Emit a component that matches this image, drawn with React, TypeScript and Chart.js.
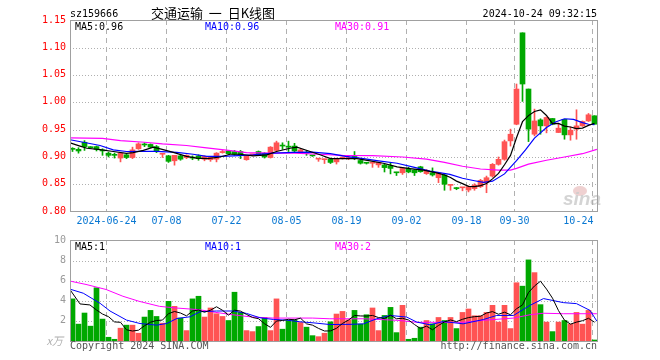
import { useEffect, useRef } from "react";
import { Chart, registerables } from "chart.js";

Chart.register(...registerables);

// ---------------- data ----------------
const dates = [
  "06-14", "06-17", "06-18", "06-19", "06-20", "06-21", "06-24", "06-25", "06-26", "06-27",
  "06-28", "07-01", "07-02", "07-03", "07-04", "07-05", "07-08", "07-09", "07-10", "07-11",
  "07-12", "07-15", "07-16", "07-17", "07-18", "07-19", "07-22", "07-23", "07-24", "07-25",
  "07-26", "07-29", "07-30", "07-31", "08-01", "08-02", "08-05", "08-06", "08-07", "08-08",
  "08-09", "08-12", "08-13", "08-14", "08-15", "08-16", "08-19", "08-20", "08-21", "08-22",
  "08-23", "08-26", "08-27", "08-28", "08-29", "08-30", "09-02", "09-03", "09-04", "09-05",
  "09-06", "09-09", "09-10", "09-11", "09-12", "09-13", "09-18", "09-19", "09-20", "09-23",
  "09-24", "09-25", "09-26", "09-27", "09-30", "10-08", "10-09", "10-10", "10-11", "10-14",
  "10-15", "10-16", "10-17", "10-18", "10-21", "10-22", "10-23", "10-24",
];

const open = [
  0.914, 0.913, 0.926, 0.917, 0.918, 0.912, 0.906, 0.903, 0.897, 0.903,
  0.898, 0.914, 0.922, 0.922, 0.918, 0.904, 0.901, 0.892, 0.901, 0.898,
  0.898, 0.901, 0.895, 0.894, 0.895, 0.907, 0.910, 0.909, 0.909, 0.894,
  0.903, 0.909, 0.906, 0.898, 0.911, 0.920, 0.918, 0.919, 0.908, 0.907,
  0.902, 0.895, 0.894, 0.895, 0.890, 0.897, 0.896, 0.900, 0.8925, 0.888,
  0.8875, 0.8845, 0.8845, 0.883, 0.8705, 0.870, 0.878, 0.875, 0.881, 0.8685,
  0.870, 0.861, 0.866, 0.847, 0.842, 0.8425, 0.8384, 0.841, 0.8445, 0.852,
  0.864, 0.8855, 0.8947, 0.9285, 0.959, 1.1265, 1.0235, 0.9407, 0.967, 0.956,
  0.9695, 0.9438, 0.968, 0.9395, 0.950, 0.956, 0.965, 0.9745,
];
const close = [
  0.913, 0.910, 0.918, 0.916, 0.913, 0.910, 0.902, 0.902, 0.906, 0.898,
  0.912, 0.923, 0.921, 0.917, 0.909, 0.905, 0.891, 0.902, 0.895, 0.902,
  0.897, 0.896, 0.900, 0.899, 0.906, 0.909, 0.905, 0.904, 0.9025, 0.901,
  0.904, 0.903, 0.899, 0.917, 0.925, 0.919, 0.917, 0.910, 0.912, 0.906,
  0.901, 0.896, 0.895, 0.889, 0.896, 0.898, 0.898, 0.896, 0.8875, 0.8875,
  0.888, 0.889, 0.8795, 0.878, 0.870, 0.878, 0.8715, 0.870, 0.872, 0.8735,
  0.866, 0.870, 0.849, 0.848, 0.841, 0.843, 0.8445, 0.8475, 0.856, 0.861,
  0.8855, 0.8947, 0.927, 0.9407, 1.0235, 1.0327, 0.950, 0.965, 0.956, 0.9714,
  0.959, 0.9518, 0.9395, 0.948, 0.956, 0.964, 0.9763, 0.959,
];
const high = [
  0.916, 0.916, 0.929, 0.918, 0.919, 0.914, 0.908, 0.906, 0.906, 0.904,
  0.917, 0.925, 0.925, 0.923, 0.920, 0.905, 0.902, 0.902, 0.903, 0.903,
  0.901, 0.903, 0.901, 0.900, 0.907, 0.911, 0.911, 0.911, 0.911, 0.901,
  0.904, 0.910, 0.907, 0.918, 0.928, 0.925, 0.928, 0.924, 0.913, 0.910,
  0.902, 0.896, 0.895, 0.897, 0.897, 0.899, 0.900, 0.909, 0.894, 0.889,
  0.888, 0.889, 0.886, 0.889, 0.871, 0.880, 0.880, 0.876, 0.882, 0.876,
  0.879, 0.870, 0.867, 0.848, 0.843, 0.843, 0.846, 0.850, 0.858, 0.864,
  0.887, 0.899, 0.930, 0.950, 1.0327, 1.1265, 1.0235, 0.9867, 0.969, 0.9726,
  0.9695, 0.959, 0.968, 0.954, 0.9855, 0.965, 0.9787, 0.9745,
];
const low = [
  0.909, 0.906, 0.911, 0.915, 0.910, 0.902, 0.899, 0.897, 0.890, 0.896,
  0.896, 0.913, 0.918, 0.916, 0.907, 0.898, 0.889, 0.884, 0.893, 0.896,
  0.894, 0.893, 0.892, 0.891, 0.890, 0.906, 0.904, 0.902, 0.896, 0.893,
  0.901, 0.902, 0.897, 0.897, 0.910, 0.913, 0.909, 0.908, 0.906, 0.902,
  0.900, 0.891, 0.887, 0.887, 0.886, 0.895, 0.894, 0.894, 0.886, 0.886,
  0.880, 0.880, 0.8715, 0.868, 0.865, 0.867, 0.870, 0.865, 0.871, 0.867,
  0.864, 0.852, 0.838, 0.838, 0.839, 0.837, 0.835, 0.838, 0.843, 0.8335,
  0.862, 0.884, 0.893, 0.919, 0.958, 1.0008, 0.9272, 0.9376, 0.9407, 0.9432,
  0.958, 0.9438, 0.9315, 0.9297, 0.9315, 0.955, 0.964, 0.959,
];
// volume in 万
const volume = [
  4.17, 1.67, 2.77, 1.47, 5.27, 2.17, 0.37, 0.17, 1.27, 1.57,
  1.57, 0.77, 2.37, 3.03, 2.43, 1.77, 3.93, 3.43, 2.27, 1.03,
  4.17, 4.43, 2.37, 3.27, 2.7, 2.43, 2.03, 4.83, 2.83, 1.03,
  0.93, 1.43, 2.33, 1.03, 4.17, 1.17, 2.03, 2.1, 1.83, 1.37,
  0.53, 0.43, 0.77, 1.9, 2.67, 2.93, 2.1, 3.03, 1.67, 2.6,
  3.27, 1.03, 2.53, 3.33, 0.83, 3.53, 0.17, 0.27, 1.37, 2.03,
  1.7, 2.33, 2.03, 2.33, 1.23, 2.83, 3.17, 2.5, 2.5, 2.83,
  3.53, 1.87, 3.53, 1.23, 5.77, 5.43, 8.03, 6.77, 3.6, 1.87,
  0.93, 1.87, 2.03, 1.67, 2.83, 1.67, 3.03, 0.1,
];

// moving averages: [day index, value]
const ma5Price: [number, number][] = [
  [-0.4, 0.925], [1.25, 0.919], [2.4, 0.915], [4.6, 0.9125], [6.8, 0.909], [9, 0.9056],
  [10.1, 0.907], [11.8, 0.911], [13.5, 0.917], [15.1, 0.9125], [16.8, 0.9075], [19, 0.9],
  [20.7, 0.897], [22.4, 0.896], [24.6, 0.899], [26.25, 0.904], [27.9, 0.904], [30.1, 0.901],
  [32.4, 0.903], [34, 0.909], [36.25, 0.915], [37.4, 0.917], [39.6, 0.909], [41.25, 0.903],
  [43, 0.896], [45.1, 0.896], [47.4, 0.896], [49.6, 0.892], [51.8, 0.8875], [54.1, 0.881],
  [56.25, 0.8775], [58.5, 0.875], [60.7, 0.87], [62, 0.866], [63, 0.8613], [64, 0.8548],
  [65, 0.8502], [66, 0.8451], [67, 0.8448], [68, 0.8464], [69, 0.8504], [70, 0.8589],
  [71, 0.8689], [72, 0.8848], [73, 0.9018], [74, 0.9343], [75, 0.9637], [76, 0.9748],
  [77, 0.9824], [78, 0.9854], [79, 0.975], [80, 0.9603], [81, 0.9606], [82, 0.9555],
  [83, 0.9539], [84, 0.9509], [85, 0.9519], [86, 0.9568], [87, 0.9607],
];
const ma10Price: [number, number][] = [
  [-0.4, 0.9306], [1.8, 0.926], [4.6, 0.92], [6.8, 0.912], [9, 0.909], [11.25, 0.9094],
  [14, 0.9094], [17.4, 0.9075], [20.1, 0.904], [22.4, 0.9], [24.6, 0.9], [26.8, 0.901],
  [30.1, 0.903], [33.5, 0.906], [36.8, 0.9075], [40, 0.908], [43, 0.905], [45.5, 0.9],
  [48.5, 0.896], [51, 0.892], [54.1, 0.8875], [57, 0.88], [59.6, 0.873], [62.9, 0.867],
  [65, 0.86], [67, 0.8555], [68.5, 0.8525], [70, 0.8546], [72, 0.868], [74, 0.8923],
  [75.5, 0.912], [77, 0.9336], [79, 0.953], [80.5, 0.963], [82, 0.969], [83.5, 0.968],
  [85, 0.962], [86, 0.959], [87, 0.9581],
];
const ma30Price: [number, number][] = [
  [-0.4, 0.934], [5, 0.933], [8, 0.929], [12, 0.926], [15, 0.923], [19, 0.92], [22, 0.916],
  [26, 0.911], [29, 0.907], [33, 0.906], [37, 0.906], [41, 0.904], [45, 0.902], [50, 0.9015],
  [55, 0.899], [59, 0.895], [62, 0.889], [65, 0.882], [68, 0.877], [71, 0.875], [73, 0.875],
  [74, 0.878], [76, 0.886], [79, 0.893], [82, 0.899], [85, 0.905], [87.4, 0.913],
];
const ma5Vol: [number, number][] = [
  [-0.4, 5.07], [1.25, 3.67], [2.9, 3.57], [4, 3.07], [5, 2.67], [6, 2.41], [7, 1.89], [8, 1.85],
  [9, 1.11], [10, 0.99], [11, 1.07], [12, 1.51], [13, 1.86], [14, 2.03], [15, 2.07], [16, 2.71],
  [17, 2.92], [18, 2.77], [19, 2.49], [20, 2.97], [21, 3.07], [22, 2.85], [23, 3.05], [24, 3.39],
  [25, 3.04], [26, 2.56], [27, 3.05], [28, 2.96], [29, 2.63], [30, 2.33], [31, 2.21], [32, 1.71],
  [33, 1.35], [34, 1.98], [35, 2.03], [36, 2.15], [37, 2.1], [38, 2.26], [39, 1.7], [40, 1.57],
  [41, 1.25], [42, 0.99], [43, 1.0], [44, 1.26], [45, 1.74], [46, 2.07], [47, 2.53], [48, 2.48],
  [49, 2.47], [50, 2.53], [51, 2.32], [52, 2.22], [53, 2.55], [54, 2.2], [55, 2.25], [56, 2.08],
  [57, 1.63], [58, 1.23], [59, 1.47], [60, 1.11], [61, 1.54], [62, 1.89], [63, 2.08], [64, 1.92],
  [65, 2.15], [66, 2.32], [67, 2.41], [68, 2.45], [69, 2.77], [70, 2.91], [71, 2.65], [72, 2.85],
  [73, 2.6], [74, 3.19], [75, 3.57], [76, 4.8], [77, 5.45], [78, 5.92], [79, 5.14], [80, 4.24],
  [81, 3.01], [82, 2.06], [83, 1.67], [84, 1.87], [85, 2.01], [86, 2.25], [87, 1.86],
];
const ma10Vol: [number, number][] = [
  [-0.4, 5.13], [1.8, 4.73], [4.6, 3.73], [6.25, 2.97], [9, 2.07], [11.25, 1.73], [14, 1.57],
  [15.7, 1.73], [17.4, 2.23], [19.6, 2.4], [21.25, 2.9], [24, 2.97], [26.8, 2.97], [29, 2.73],
  [31.25, 2.3], [33.5, 2.13], [35.7, 2.07], [37.9, 1.9], [40.1, 1.8], [42.9, 1.63], [46.25, 1.65],
  [48.5, 1.7], [50.7, 2.2], [52.9, 2.53], [55.7, 2.37], [57.4, 1.87], [59.6, 1.6], [61.8, 1.93],
  [65.1, 1.7], [68.5, 2.13], [70.7, 2.53], [73.5, 2.53], [76.25, 3.53], [78.5, 4.2], [81.8, 3.8],
  [84, 3.7], [86.25, 3.03], [87.4, 1.96],
];
const ma30Vol: [number, number][] = [
  [-0.4, 5.93], [2.25, 5.6], [5.6, 5.1], [8.4, 4.43], [11.1, 3.93], [14.5, 3.43], [17.25, 3.27],
  [21.1, 3.1], [23.9, 2.83], [26.7, 2.6], [30, 2.37], [33.4, 2.27], [40, 2.27], [42.9, 2.2],
  [48.5, 2.2], [54.1, 2.05], [57.4, 1.85], [65.1, 1.85], [68.5, 2.05], [73.5, 2.27], [76.25, 2.6],
  [78.5, 2.75], [81.8, 2.7], [87.4, 2.7],
];

const priceTicks = [0.8, 0.85, 0.9, 0.95, 1.0, 1.05, 1.1, 1.15];
const volTicks = [0, 2, 4, 6, 8, 10];
const tickDates = ["06-24", "07-08", "07-22", "08-05", "08-19", "09-02", "09-18", "09-30", "10-24"];
const tickLabels = ["2024-06-24", "07-08", "07-22", "08-05", "08-19", "09-02", "09-18", "09-30", "10-24"];

const symbolText = "sz159666";
const titleText = "交通运输  一  日K线图";
const timeText = "2024-10-24 09:32:15";
const priceLegend = ["MA5:0.96", "MA10:0.96", "MA30:0.91"];
const volLegend = ["MA5:1", "MA10:1", "MA30:2"];
const volUnit = "x万";
const copyrightText = "Copyright 2024 SINA.COM";
const urlText = "http://finance.sina.com.cn";

// ---------------- styling ----------------
const UP = "#ff5353";
const DOWN = "#00a800";
const MA_COLORS = ["#000000", "#0000ff", "#ff00ff"];
const MONO = '"DejaVu Sans Mono", monospace';
const X_MIN = -2.5 / 6;
const X_MAX = 87 + 2.5 / 6;

const candleColors = open.map((o, i) => (close[i] >= o ? UP : DOWN));

function gridPlugin(hTicks: number[]) {
  return {
    id: "sinaGrid",
    beforeDatasetsDraw(chart: any) {
      const { ctx, chartArea: a, scales } = chart;
      const x = scales.x;
      const y = scales.y;
      ctx.save();
      ctx.lineWidth = 1;
      ctx.strokeStyle = "#b0b0b0";
      ctx.setLineDash([1, 2]);
      for (const v of hTicks) {
        const py = Math.ceil(y.getPixelForValue(v)) + 0.5;
        if (py <= a.top + 2 || py >= a.bottom - 1) continue;
        ctx.beginPath();
        ctx.moveTo(a.left, py);
        ctx.lineTo(a.right, py);
        ctx.stroke();
      }
      ctx.setLineDash([5, 4]);
      for (const d of tickDates) {
        const px = Math.floor(x.getPixelForValue(dates.indexOf(d)) - 2) + 0.5;
        ctx.beginPath();
        ctx.moveTo(px, a.top);
        ctx.lineTo(px, a.bottom);
        ctx.stroke();
      }
      ctx.restore();
    },
    afterDatasetsDraw(chart: any) {
      const { ctx, chartArea: a } = chart;
      ctx.save();
      ctx.strokeStyle = "#a0a0a0";
      ctx.lineWidth = 1;
      ctx.setLineDash([]);
      ctx.strokeRect(a.left + 0.5, a.top + 0.5, a.right - a.left, a.bottom - a.top);
      ctx.restore();
    },
  };
}

type TextItem = { text: string; x: number; y: number; color: string; font: string; align?: CanvasTextAlign; baseline?: CanvasTextBaseline };

function textPlugin(items: TextItem[]) {
  return {
    id: "sinaTexts",
    afterDraw(chart: any) {
      const ctx = chart.ctx;
      ctx.save();
      for (const t of items) {
        ctx.font = t.font;
        ctx.fillStyle = t.color;
        ctx.textAlign = t.align || "left";
        ctx.textBaseline = t.baseline || "alphabetic";
        ctx.fillText(t.text, t.x, t.y);
      }
      ctx.restore();
    },
  };
}

const watermarkPlugin = {
  id: "sinaWatermark",
  beforeDatasetsDraw(chart: any) {
    const ctx = chart.ctx;
    ctx.save();
    ctx.fillStyle = "rgba(232,190,190,0.7)";
    ctx.beginPath();
    ctx.ellipse(580, 191, 7, 5, 0, 0, Math.PI * 2);
    ctx.fill();
    ctx.fillStyle = "rgba(205,205,205,0.85)";
    ctx.font = 'italic bold 19px "Liberation Sans", sans-serif';
    ctx.fillText("sina", 563, 205);
    ctx.restore();
  },
};

function lineDs(points: [number, number][], color: string, width: number) {
  return {
    type: "line" as const,
    data: points.map(([x, y]) => ({ x, y })),
    borderColor: color,
    borderWidth: width,
    pointRadius: 0,
    tension: 0,
    fill: false,
    order: 0,
  };
}

export default function App() {
  const priceRef = useRef<HTMLCanvasElement>(null);
  const volRef = useRef<HTMLCanvasElement>(null);

  useEffect(() => {
    const xAxisLabelValues = tickDates.map((d) => Math.min(dates.indexOf(d) - 1 / 3, X_MAX - 3.1));

    const priceChart = new Chart(priceRef.current as HTMLCanvasElement, {
      type: "bar",
      data: {
        datasets: [
          lineDs(ma5Price, MA_COLORS[0], 1.2),
          lineDs(ma10Price, MA_COLORS[1], 1.2),
          lineDs(ma30Price, MA_COLORS[2], 1.2),
          {
            type: "bar",
            data: open.map((o, i) => ({ x: i, y: [o, close[i]] })) as any,
            backgroundColor: candleColors,
            barThickness: 5,
            minBarLength: 1,
            grouped: false,
            order: 1,
          },
          {
            type: "bar",
            data: low.map((l, i) => ({ x: i, y: [l, high[i]] })) as any,
            backgroundColor: candleColors,
            barThickness: 1,
            minBarLength: 1,
            grouped: false,
            order: 2,
          },
        ] as any,
      },
      options: {
        responsive: false,
        animation: false,
        events: [],
        layout: { padding: { top: 20, right: 63, left: 0, bottom: 0 } },
        plugins: { legend: { display: false }, tooltip: { enabled: false } },
        scales: {
          x: {
            type: "linear",
            offset: false,
            min: X_MIN,
            max: X_MAX,
            grid: { display: false, drawTicks: false, offset: false },
            border: { display: false },
            afterBuildTicks: (s: any) => {
              s.ticks = xAxisLabelValues.map((v) => ({ value: v }));
            },
            afterFit: (s: any) => {
              s.height = 19;
            },
            ticks: {
              autoSkip: false,
              maxRotation: 0,
              minRotation: 0,
              padding: 4,
              color: "#0a78d2",
              font: { family: MONO, size: 10 },
              callback: (_v: any, i: number) => tickLabels[i],
            },
          },
          y: {
            type: "linear",
            min: 0.8,
            max: 1.15,
            grid: { display: false, drawTicks: false },
            border: { display: false },
            afterBuildTicks: (s: any) => {
              s.ticks = priceTicks.map((v) => ({ value: v }));
            },
            afterFit: (s: any) => {
              s.width = 70;
            },
            ticks: {
              padding: 4,
              color: "#ff0000",
              font: { family: MONO, size: 10 },
              callback: (v: any) => Number(v).toFixed(2),
            },
          },
        },
      },
      plugins: [
        watermarkPlugin,
        gridPlugin(priceTicks),
        textPlugin([
          { text: symbolText, x: 70, y: 17, color: "#000", font: `10px ${MONO}` },
          { text: titleText, x: 213, y: 13, color: "#000", font: '13px "Noto Sans CJK SC", sans-serif', align: "center", baseline: "middle" },
          { text: timeText, x: 597, y: 17, color: "#000", font: `10px ${MONO}`, align: "right" },
          { text: priceLegend[0], x: 75, y: 30, color: MA_COLORS[0], font: `10px ${MONO}` },
          { text: priceLegend[1], x: 205, y: 30, color: MA_COLORS[1], font: `10px ${MONO}` },
          { text: priceLegend[2], x: 335, y: 30, color: MA_COLORS[2], font: `10px ${MONO}` },
        ]),
      ],
    } as any);

    const volChart = new Chart(volRef.current as HTMLCanvasElement, {
      type: "bar",
      data: {
        datasets: [
          lineDs(ma5Vol, MA_COLORS[0], 1),
          lineDs(ma10Vol, MA_COLORS[1], 1),
          lineDs(ma30Vol, MA_COLORS[2], 1),
          {
            type: "bar",
            data: volume.map((v, i) => ({ x: i, y: v })) as any,
            backgroundColor: candleColors,
            barThickness: 5,
            grouped: false,
            order: 1,
          },
        ] as any,
      },
      options: {
        responsive: false,
        animation: false,
        events: [],
        layout: { padding: { top: 10, right: 63, left: 0, bottom: 19 } },
        plugins: { legend: { display: false }, tooltip: { enabled: false } },
        scales: {
          x: {
            type: "linear",
            offset: false,
            min: X_MIN,
            max: X_MAX,
            display: false,
          },
          y: {
            type: "linear",
            min: 0,
            max: 10,
            grid: { display: false, drawTicks: false },
            border: { display: false },
            afterBuildTicks: (s: any) => {
              s.ticks = volTicks.map((v) => ({ value: v }));
            },
            afterFit: (s: any) => {
              s.width = 70;
            },
            ticks: {
              padding: 4,
              color: "#9a9a9a",
              font: { family: MONO, size: 10 },
              callback: (v: any) => (Number(v) === 0 ? "" : String(v)),
            },
          },
        },
      },
      plugins: [
        gridPlugin(volTicks),
        textPlugin([
          { text: volLegend[0], x: 75, y: 20, color: MA_COLORS[0], font: `10px ${MONO}` },
          { text: volLegend[1], x: 205, y: 20, color: MA_COLORS[1], font: `10px ${MONO}` },
          { text: volLegend[2], x: 335, y: 20, color: MA_COLORS[2], font: `10px ${MONO}` },
          { text: volUnit, x: 63, y: 115, color: "#b0b0b0", font: 'italic 11px "Noto Sans CJK SC", sans-serif', align: "right" },
          { text: copyrightText, x: 70, y: 119, color: "#555555", font: `10px ${MONO}` },
          { text: urlText, x: 597, y: 119, color: "#555555", font: `10px ${MONO}`, align: "right" },
        ]),
      ],
    } as any);

    return () => {
      priceChart.destroy();
      volChart.destroy();
    };
  }, []);

  return (
    <div style={{ position: "absolute", left: 0, top: 0, width: 660, height: 360, background: "#fff" }}>
      <canvas ref={priceRef} width={660} height={230} style={{ position: "absolute", left: 0, top: 0 }} />
      <canvas ref={volRef} width={660} height={130} style={{ position: "absolute", left: 0, top: 230 }} />
    </div>
  );
}
